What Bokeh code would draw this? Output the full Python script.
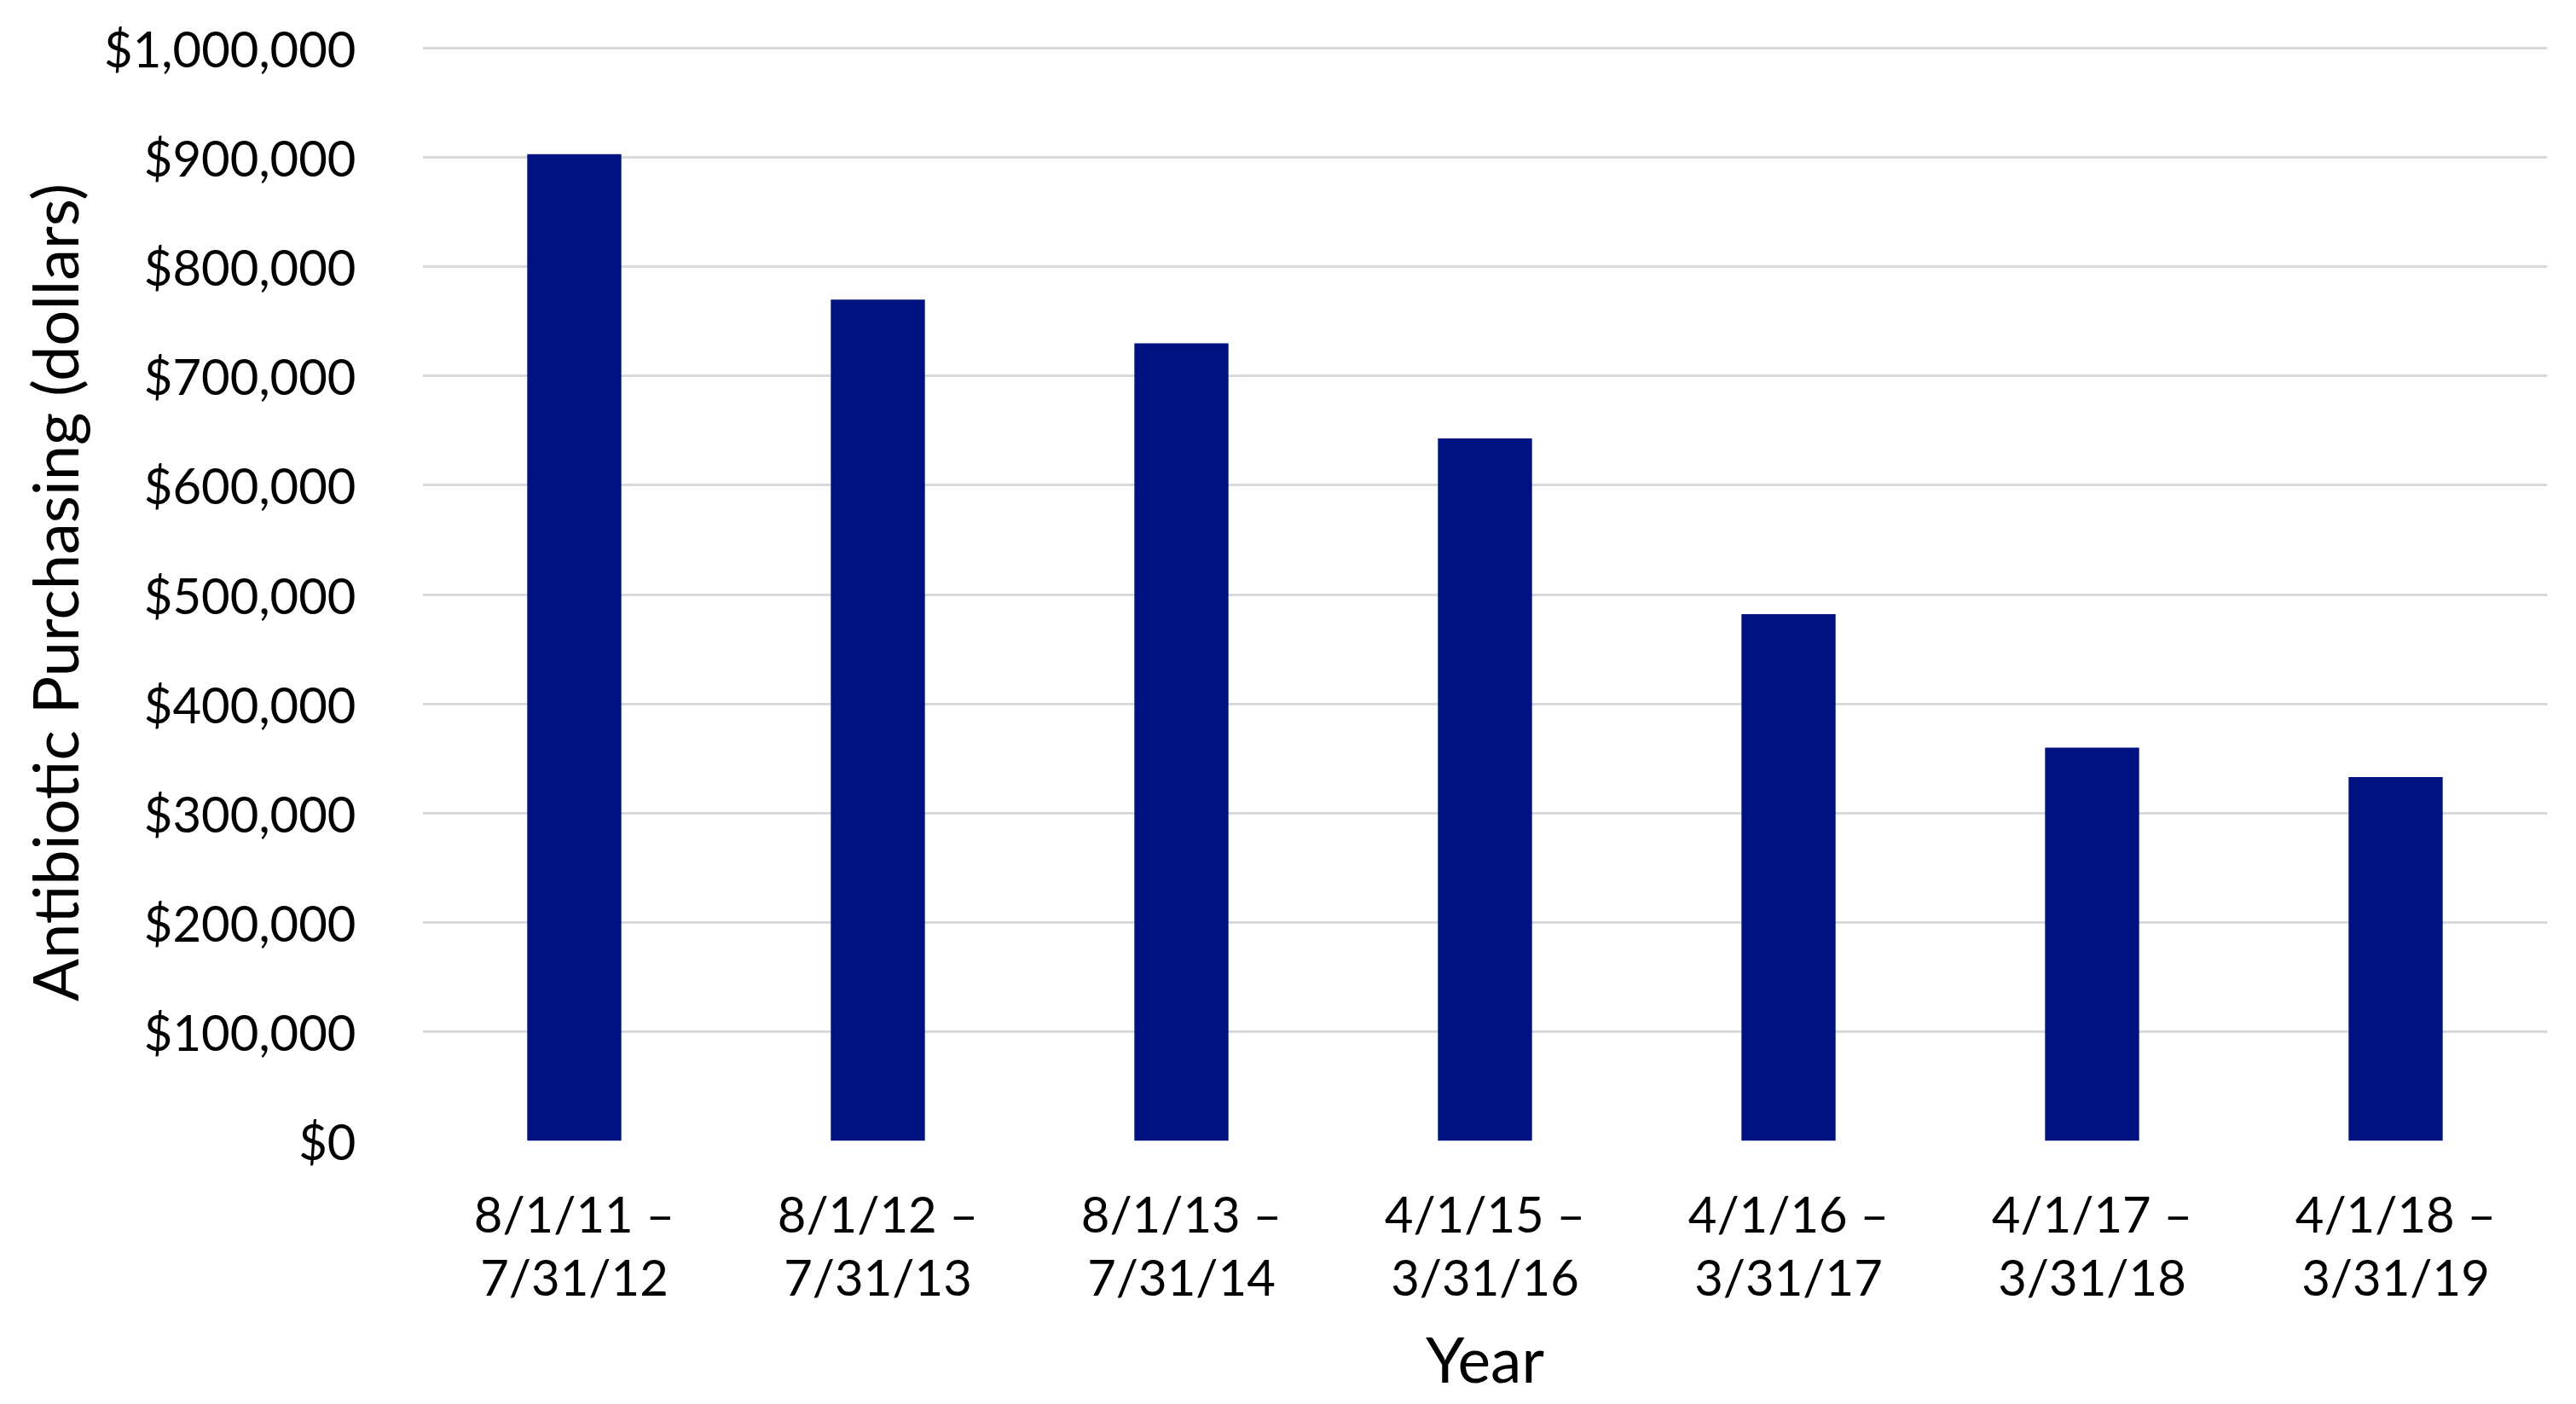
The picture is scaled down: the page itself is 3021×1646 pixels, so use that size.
from bokeh.plotting import figure
from bokeh.models import Range1d, NumeralTickFormatter, FixedTicker
from bokeh.embed import file_html
from bokeh.resources import INLINE

periods = [
    "8/1/11 –\n7/31/12",
    "8/1/12 –\n7/31/13",
    "8/1/13 –\n7/31/14",
    "4/1/15 –\n3/31/16",
    "4/1/16 –\n3/31/17",
    "4/1/17 –\n3/31/18",
    "4/1/18 –\n3/31/19",
]
purchasing = [903000, 770000, 730000, 643000, 482000, 360000, 333000]
y_ticks = [0, 100000, 200000, 300000, 400000, 500000, 600000, 700000, 800000, 900000, 1000000]

FONT = "Lato"
BAR = "#001282"

p = figure(
    x_range=periods,
    y_range=Range1d(0, 1004000),
    width=3005,
    height=1640,
    output_backend="svg",
    toolbar_location=None,
    min_border_left=495,
    min_border_right=18,
    min_border_top=51,
    min_border_bottom=293,
)
p.outline_line_color = None
p.background_fill_color = "white"
p.border_fill_color = "white"

p.vbar(x=periods, top=purchasing, width=0.31, color=BAR, line_color=None)

# y axis
p.yaxis.ticker = FixedTicker(ticks=y_ticks)
p.yaxis.formatter = NumeralTickFormatter(format="$0,0")
p.yaxis.axis_line_color = None
p.yaxis.major_tick_line_color = None
p.yaxis.minor_tick_line_color = None
p.yaxis.major_label_standoff = 72
p.yaxis.major_label_text_font = FONT
p.yaxis.major_label_text_font_size = "58px"
p.yaxis.major_label_text_color = "#000000"
p.yaxis.axis_label = "Antibiotic Purchasing (dollars)"
p.yaxis.axis_label_text_font = FONT
p.yaxis.axis_label_text_font_size = "74px"
p.yaxis.axis_label_text_font_style = "normal"
p.yaxis.axis_label_text_color = "#000000"
p.yaxis.axis_label_standoff = 11

# x axis
p.xaxis.axis_line_color = None
p.xaxis.major_tick_line_color = None
p.xaxis.minor_tick_line_color = None
p.xaxis.major_label_standoff = 44
p.xaxis.major_label_text_font = FONT
p.xaxis.major_label_text_font_size = "58px"
p.xaxis.major_label_text_color = "#000000"
p.xaxis.major_label_text_line_height = 1.08
p.xaxis.axis_label = "Year"
p.xaxis.axis_label_text_font = FONT
p.xaxis.axis_label_text_font_size = "73px"
p.xaxis.axis_label_text_font_style = "normal"
p.xaxis.axis_label_text_color = "#000000"
p.xaxis.axis_label_standoff = 15

p.xgrid.grid_line_color = None
p.ygrid.grid_line_color = "#d9d9d9"
p.ygrid.grid_line_width = 3

open("out.html", "w").write(file_html(p, INLINE))
